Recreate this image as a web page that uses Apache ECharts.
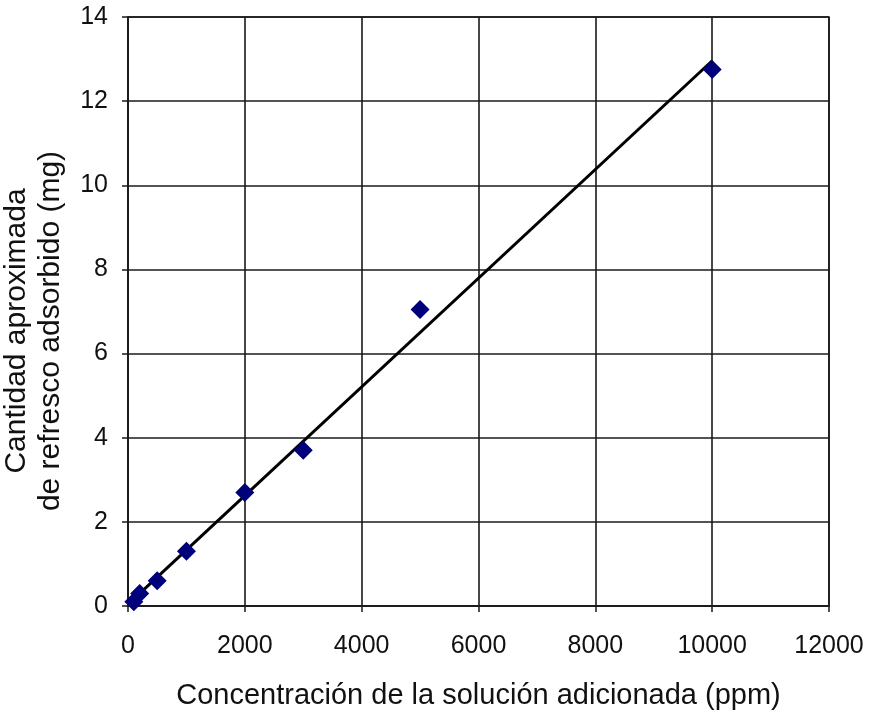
<!DOCTYPE html>
<html>
<head>
<meta charset="utf-8">
<script src="https://cdn.jsdelivr.net/npm/echarts@6/dist/echarts.min.js"></script>
<style>html,body{margin:0;padding:0;background:#fff}#c{width:869px;height:715px}</style>
</head>
<body>
<div id="c"></div>
<script>
const concentrations = [100, 200, 500, 1000, 2000, 3000, 5000, 10000];
const adsorbed = [0.1, 0.3, 0.6, 1.3, 2.7, 3.7, 7.05, 12.75];
const trendX = [100, 10000];
const trendY = [0.17, 12.96];
const xTicks = [0, 2000, 4000, 6000, 8000, 10000, 12000];
const yTicks = [0, 2, 4, 6, 8, 10, 12, 14];
const xTitle = 'Concentración de la solución adicionada (ppm)';
const yTitle = 'Cantidad aproximada\nde refresco adsorbido (mg)';

const chart = echarts.init(document.getElementById('c'));
const font = 'Liberation Sans, Arial, sans-serif';
chart.setOption({
  animation: false,
  grid: {left: 128, right: 40, top: 17, bottom: 109, show: true, borderColor: '#1a1a1a', borderWidth: 1.5,
         containLabel: false, outerBoundsMode: 'none'},
  xAxis: {
    type: 'value', min: xTicks[0], max: xTicks[xTicks.length-1], interval: 2000,
    name: xTitle, nameLocation: 'middle', nameGap: 75,
    nameTextStyle: {fontFamily: font, fontSize: 29, color: '#111'},
    axisLine: {show: true, lineStyle: {color: '#1a1a1a', width: 1.5}},
    axisTick: {show: true, inside: false, length: 6, lineStyle: {color: '#1a1a1a', width: 1.5}},
    axisLabel: {fontFamily: font, fontSize: 25, color: '#111', margin: 28, formatter: v => String(v)},
    splitLine: {show: true, lineStyle: {color: '#1a1a1a', width: 1.6}}
  },
  yAxis: {
    type: 'value', min: yTicks[0], max: yTicks[yTicks.length-1], interval: 2,
    axisLine: {show: true, lineStyle: {color: '#1a1a1a', width: 1.5}},
    axisTick: {show: true, inside: false, length: 6, lineStyle: {color: '#1a1a1a', width: 1.5}},
    axisLabel: {fontFamily: font, fontSize: 25, color: '#111', margin: 20, formatter: v => String(v)},
    splitLine: {show: true, lineStyle: {color: '#1a1a1a', width: 1.6}}
  },
  graphic: [{
    type: 'text', x: 34, y: 331, rotation: Math.PI / 2,
    style: {text: yTitle, font: '30px ' + font, fill: '#111', align: 'center', verticalAlign: 'middle', lineHeight: 34}
  }],
  series: [
    {
      type: 'line', data: trendX.map((x, i) => [x, trendY[i]]), showSymbol: false, symbol: 'none',
      lineStyle: {color: '#000', width: 3}, z: 2
    },
    {
      type: 'scatter', data: concentrations.map((x, i) => [x, adsorbed[i]]),
      symbol: 'diamond', symbolSize: 19, itemStyle: {color: '#00007a', opacity: 1}, z: 3
    }
  ]
});
</script>
</body>
</html>
